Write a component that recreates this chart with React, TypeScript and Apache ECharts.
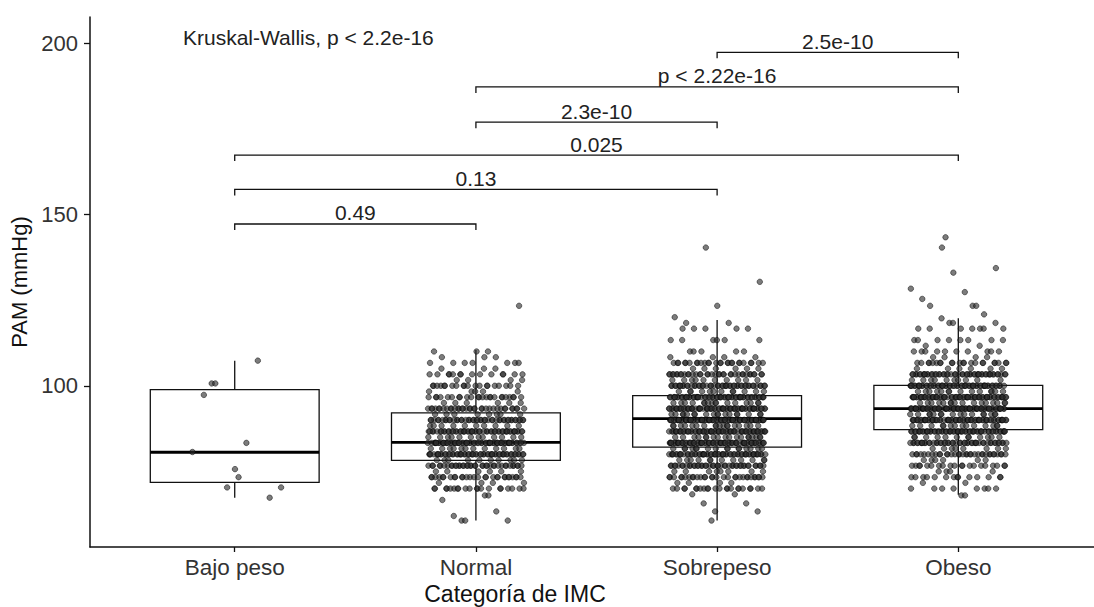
import { useEffect, useRef } from 'react';
import * as echarts from 'echarts';

const categories = ['Bajo peso', 'Normal', 'Sobrepeso', 'Obeso'];
const yTicks = [100, 150, 200];

// PAM (mmHg) of the few "Bajo peso" subjects
const bajoPesoValues = [100.67, 100.67, 107.33, 97.33, 83.33, 80.67, 75.67, 73.33, 70.33, 70.33, 67.33];

// Other groups: distinct PAM values and how many subjects share each one
const normalLevels = [60.67, 62, 63.33, 66.67, 68, 70, 71.67, 73.33, 75, 76.67, 78.33, 80, 81.67, 83.33, 85, 86.67, 88.33, 90, 91.67, 93.33, 95, 96.67, 98.33, 100, 101.67, 103.33, 105, 106.67, 108.33, 110, 123.33];
const normalCounts = [3, 1, 1, 1, 2, 20, 4, 28, 6, 38, 10, 55, 12, 62, 12, 52, 10, 44, 8, 34, 6, 24, 5, 20, 4, 14, 3, 7, 3, 3, 1];

const sobrepesoLevels = [60.67, 63.33, 65.67, 68.33, 70, 71.67, 73.33, 75, 76.67, 78.33, 80, 81.67, 83.33, 85, 86.67, 88.33, 90, 91.67, 93.33, 95, 96.67, 98.33, 100, 101.67, 103.33, 105, 106.67, 108.33, 110, 113.33, 116.67, 118.33, 120, 123.33, 130.33, 140.33];
const sobrepesoCounts = [1, 2, 2, 2, 22, 4, 30, 8, 42, 12, 58, 16, 70, 18, 66, 18, 72, 18, 66, 16, 58, 12, 48, 10, 36, 6, 26, 4, 5, 6, 5, 2, 1, 1, 1, 1];

const obesoLevels = [68, 70, 71.67, 73.33, 75, 76.67, 78.33, 80, 81.67, 83.33, 85, 86.67, 88.33, 90, 91.67, 93.33, 95, 96.67, 98.33, 100, 101.67, 103.33, 105, 106.67, 108.33, 110, 111.67, 113.33, 116.67, 118.33, 119.67, 120.83, 123.33, 125.33, 127.33, 128.33, 133, 134.33, 140.33, 143.33];
const obesoCounts = [2, 8, 2, 14, 4, 20, 6, 34, 8, 48, 12, 58, 14, 66, 16, 72, 16, 64, 14, 56, 10, 50, 6, 22, 4, 10, 2, 8, 7, 3, 1, 1, 3, 1, 1, 1, 1, 1, 1, 1];

// Box statistics per category (whisker low, Q1, median, Q3, whisker high)
const boxLow = [67.3, 60.7, 60.7, 68.2];
const boxQ1 = [71.8, 78.2, 82.1, 87.2];
const boxMedian = [80.6, 83.5, 90.4, 93.3];
const boxQ3 = [98.9, 92.1, 97.1, 100.1];
const boxHigh = [107.3, 110.4, 119.2, 119.7];

// Pairwise comparison brackets
const bracketFrom = [1, 1, 1, 2, 2, 3];
const bracketTo = [2, 3, 4, 3, 4, 4];
const bracketY = [147.2, 157.3, 167.3, 176.9, 187.2, 197.3];
const bracketLabels = ['0.49', '0.13', '0.025', '2.3e-10', 'p < 2.22e-16', '2.5e-10'];

const globalTest = 'Kruskal-Wallis, p < 2.2e-16';
const xTitle = 'Categoría de IMC';
const yTitle = 'PAM (mmHg)';

const FONT = '"Liberation Sans", Arial, Helvetica, sans-serif';
const JITTER = 0.2;

// Deterministic horizontal jitter in [-JITTER, JITTER]
function jitterOffset(i: number): number {
  const j = (i * 7919 + 13) % 1009;
  const f = (j * 0.6180339887 + 0.137) % 1;
  return (f - 0.5) * 2 * JITTER;
}

function expand(levels: number[], counts: number[]): number[] {
  const out: number[] = [];
  levels.forEach((v, i) => {
    for (let k = 0; k < counts[i]; k++) out.push(v);
  });
  return out;
}

function jittered(cat: number, values: number[]): number[][] {
  return values.map((v, i) => [cat + jitterOffset(i + cat * 211), v]);
}

export default function App() {
  const ref = useRef<HTMLDivElement>(null);

  useEffect(() => {
    if (!ref.current) return;
    const chart = echarts.init(ref.current, undefined, { renderer: 'svg' });

    const groups = [
      bajoPesoValues,
      expand(normalLevels, normalCounts),
      expand(sobrepesoLevels, sobrepesoCounts),
      expand(obesoLevels, obesoCounts),
    ];
    const points: number[][] = [];
    groups.forEach((vals, gi) => points.push(...jittered(gi + 1, vals)));

    const boxData = categories.map((_, i) => [i + 1, boxLow[i], boxQ1[i], boxMedian[i], boxQ3[i], boxHigh[i]]);
    const bracketData = bracketFrom.map((f, i) => [f, bracketTo[i], bracketY[i], i]);

    chart.setOption({
      animation: false,
      backgroundColor: '#ffffff',
      textStyle: { fontFamily: FONT },
      grid: { left: 90, top: 17, right: 0, bottom: 60 },
      xAxis: {
        type: 'value',
        min: 0.4,
        max: 4.5626,
        axisLine: { show: true, onZero: false, lineStyle: { color: '#111', width: 1.5 } },
        axisTick: { show: true, customValues: [1, 2, 3, 4], length: 5, lineStyle: { color: '#111', width: 1.3 } },
        axisLabel: {
          customValues: [1, 2, 3, 4],
          formatter: (v: number) => categories[Math.round(v) - 1] ?? '',
          fontSize: 22.5,
          color: '#333',
          margin: 9,
          fontFamily: FONT,
        },
        splitLine: { show: false },
      },
      yAxis: {
        type: 'value',
        min: 52.95,
        max: 207.6,
        name: yTitle,
        nameLocation: 'middle',
        nameGap: 60,
        nameRotate: 90,
        nameTextStyle: { fontSize: 22, color: '#111', fontFamily: FONT },
        axisLine: { show: true, onZero: false, lineStyle: { color: '#111', width: 1.5 } },
        axisTick: { show: true, customValues: yTicks, length: 6, lineStyle: { color: '#111', width: 1.3 } },
        axisLabel: {
          customValues: yTicks,
          fontSize: 22,
          color: '#333',
          margin: 12,
          fontFamily: FONT,
        },
        splitLine: { show: false },
      },
      graphic: [
        {
          type: 'text',
          x: 183,
          y: 37,
          silent: true,
          style: {
            text: globalTest,
            font: `21px ${FONT}`,
            fill: '#222',
            align: 'left',
            verticalAlign: 'middle',
          },
        },
        {
          type: 'text',
          x: 515,
          y: 594,
          silent: true,
          style: {
            text: xTitle,
            font: `23px ${FONT}`,
            fill: '#111',
            align: 'center',
            verticalAlign: 'middle',
          },
        },
      ],
      series: [
        {
          type: 'custom',
          z: 1,
          silent: true,
          data: boxData,
          encode: { x: 0, y: [1, 5] },
          renderItem: (_params: any, api: any) => {
            const x = api.value(0);
            const half = api.size([0.35, 0])[0];
            const lo = api.coord([x, api.value(1)]);
            const q1 = api.coord([x, api.value(2)]);
            const med = api.coord([x, api.value(3)]);
            const q3 = api.coord([x, api.value(4)]);
            const hi = api.coord([x, api.value(5)]);
            const cx = q1[0];
            const stroke = { stroke: '#111', lineWidth: 1.3, fill: 'none' };
            return {
              type: 'group',
              children: [
                { type: 'line', shape: { x1: cx, y1: q3[1], x2: cx, y2: hi[1] }, style: stroke },
                { type: 'line', shape: { x1: cx, y1: q1[1], x2: cx, y2: lo[1] }, style: stroke },
                {
                  type: 'rect',
                  shape: { x: cx - half, y: q3[1], width: half * 2, height: q1[1] - q3[1] },
                  style: { fill: '#ffffff', stroke: '#111', lineWidth: 1.3 },
                },
                {
                  type: 'line',
                  shape: { x1: cx - half, y1: med[1], x2: cx + half, y2: med[1] },
                  style: { stroke: '#000', lineWidth: 2.8 },
                },
              ],
            };
          },
        },
        {
          type: 'scatter',
          z: 2,
          silent: true,
          data: points,
          symbol: 'circle',
          symbolSize: 5.5,
          itemStyle: {
            color: 'rgba(45,45,45,0.78)',
            borderColor: 'rgba(0,0,0,0.85)',
            borderWidth: 0.7,
          },
        },
        {
          type: 'custom',
          z: 3,
          silent: true,
          data: bracketData,
          encode: { x: [0, 1], y: 2 },
          renderItem: (_params: any, api: any) => {
            const y = api.value(2);
            const a = api.coord([api.value(0), y]);
            const b = api.coord([api.value(1), y]);
            const tip = 6;
            return {
              type: 'group',
              children: [
                {
                  type: 'polyline',
                  shape: { points: [[a[0], a[1] + tip], [a[0], a[1]], [b[0], b[1]], [b[0], b[1] + tip]] },
                  style: { stroke: '#111', lineWidth: 1.3, fill: 'none' },
                },
                {
                  type: 'text',
                  x: (a[0] + b[0]) / 2,
                  y: a[1] - 11,
                  style: {
                    text: bracketLabels[api.value(3)],
                    font: `21px ${FONT}`,
                    fill: '#222',
                    align: 'center',
                    verticalAlign: 'middle',
                  },
                },
              ],
            };
          },
        },
      ],
    });

    return () => chart.dispose();
  }, []);

  return (
    <div
      ref={ref}
      style={{ position: 'fixed', left: 0, top: 0, width: 1094, height: 607, background: '#fff' }}
    />
  );
}
